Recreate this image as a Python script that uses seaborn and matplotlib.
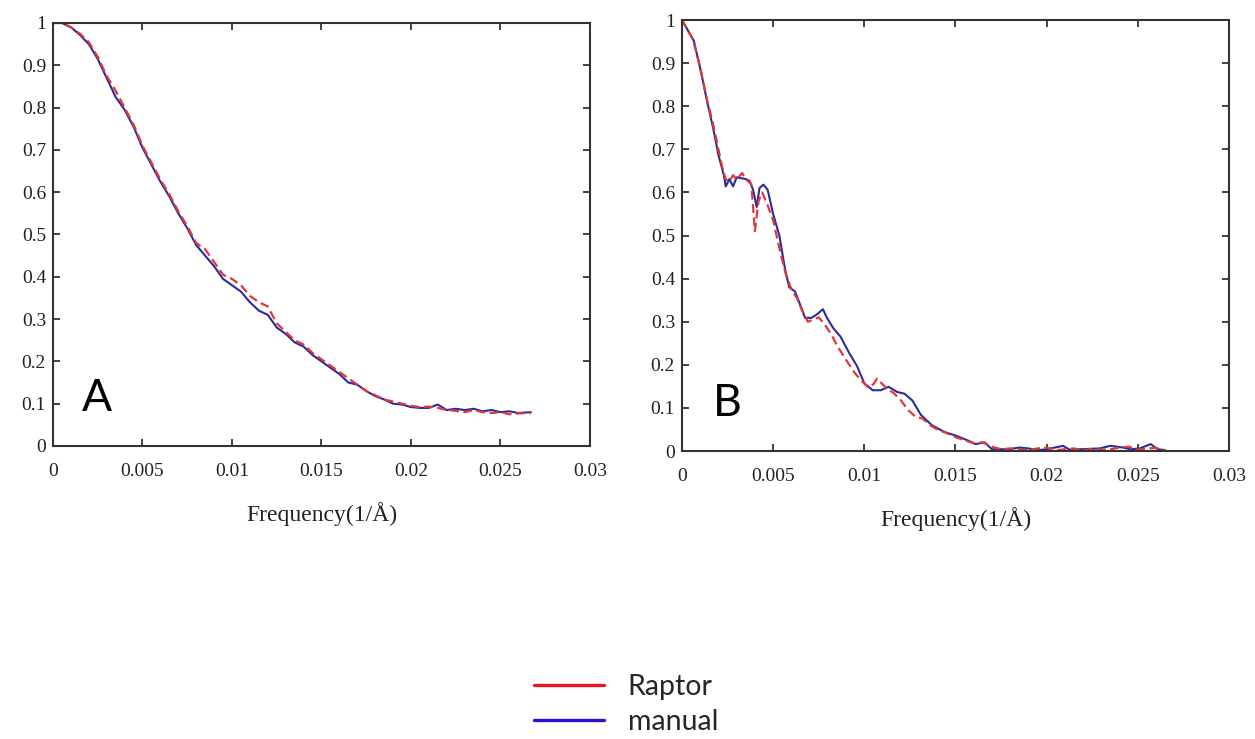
import matplotlib
matplotlib.use("Agg")
import matplotlib.pyplot as plt
from matplotlib.lines import Line2D
from matplotlib.ticker import FuncFormatter
import seaborn as sns
import pandas as pd

# ---- FSC curves, panel A ----
freq_a = [0.0, 0.0005, 0.001, 0.0015, 0.002, 0.0025, 0.003, 0.0035, 0.004, 0.0045,
          0.005, 0.0055, 0.006, 0.0065, 0.007, 0.0075, 0.008, 0.0085, 0.009, 0.0095,
          0.010, 0.0105, 0.011, 0.0115, 0.012, 0.0125, 0.013, 0.0135, 0.014, 0.0145,
          0.015, 0.0155, 0.016, 0.0165, 0.017, 0.0175, 0.018, 0.0185, 0.019, 0.0195,
          0.020, 0.0205, 0.021, 0.0215, 0.022, 0.0225, 0.023, 0.0235, 0.024, 0.0245,
          0.025, 0.0255, 0.026, 0.0267]
manual_a = [1.000, 1.000, 0.990, 0.972, 0.950, 0.915, 0.870, 0.825, 0.795, 0.755,
            0.705, 0.665, 0.625, 0.590, 0.550, 0.515, 0.475, 0.450, 0.425, 0.395,
            0.380, 0.365, 0.340, 0.320, 0.310, 0.280, 0.265, 0.245, 0.235, 0.215,
            0.200, 0.185, 0.170, 0.150, 0.145, 0.130, 0.118, 0.110, 0.100, 0.098,
            0.092, 0.090, 0.090, 0.098, 0.085, 0.088, 0.085, 0.088, 0.082, 0.085,
            0.080, 0.082, 0.078, 0.080]
raptor_a = [1.000, 1.000, 0.990, 0.975, 0.955, 0.920, 0.875, 0.840, 0.800, 0.760,
            0.710, 0.670, 0.630, 0.595, 0.555, 0.520, 0.480, 0.465, 0.435, 0.405,
            0.395, 0.380, 0.355, 0.340, 0.330, 0.290, 0.270, 0.250, 0.240, 0.220,
            0.205, 0.190, 0.175, 0.160, 0.145, 0.130, 0.120, 0.110, 0.105, 0.100,
            0.095, 0.092, 0.093, 0.090, 0.085, 0.083, 0.080, 0.085, 0.080, 0.078,
            0.080, 0.075, 0.077, 0.078]

# ---- FSC curves, panel B ----
freq_b_manual = [0.0, 0.00065, 0.001, 0.0014, 0.0017, 0.002, 0.0023, 0.0024, 0.0026, 0.0028,
                 0.0030, 0.0035, 0.0037, 0.0039, 0.0041, 0.00425, 0.00447, 0.0047, 0.0050, 0.00534,
                 0.00566, 0.00588, 0.0062, 0.00654, 0.00675, 0.0071, 0.0074, 0.00773, 0.00795, 0.0083,
                 0.0087, 0.00915, 0.0096, 0.0100, 0.01046, 0.0109, 0.01133, 0.0118, 0.0122, 0.01264,
                 0.0131, 0.0137, 0.0144, 0.0150, 0.0157, 0.0161, 0.0166, 0.0170, 0.0179, 0.0185,
                 0.0190, 0.0195, 0.0200, 0.0209, 0.0213, 0.0218, 0.0229, 0.0235, 0.0242, 0.0246,
                 0.0251, 0.0257, 0.0261, 0.0265]
manual_b = [1.000, 0.952, 0.888, 0.807, 0.751, 0.687, 0.639, 0.614, 0.631, 0.614,
            0.635, 0.631, 0.627, 0.606, 0.566, 0.610, 0.618, 0.606, 0.550, 0.500,
            0.420, 0.380, 0.370, 0.333, 0.309, 0.309, 0.317, 0.329, 0.309, 0.285,
            0.265, 0.229, 0.197, 0.157, 0.141, 0.141, 0.149, 0.137, 0.133, 0.117,
            0.084, 0.060, 0.044, 0.036, 0.024, 0.016, 0.020, 0.004, 0.004, 0.008,
            0.006, 0.002, 0.004, 0.012, 0.002, 0.004, 0.006, 0.012, 0.008, 0.004,
            0.006, 0.016, 0.004, 0.002]
freq_b_raptor = [0.0, 0.0006, 0.001, 0.0014, 0.0017, 0.002, 0.0022, 0.0024, 0.0026, 0.0028,
                 0.003, 0.0033, 0.0035, 0.0038, 0.0040, 0.0042, 0.0044, 0.0047, 0.005, 0.0054,
                 0.0057, 0.006, 0.0063, 0.0066, 0.0069, 0.0072, 0.0075, 0.0078, 0.0082, 0.0085,
                 0.0088, 0.0091, 0.0095, 0.0098, 0.0102, 0.0105, 0.0107, 0.011, 0.0113, 0.0116,
                 0.012, 0.0124, 0.0128, 0.0132, 0.0136, 0.014, 0.0145, 0.015, 0.0155, 0.016,
                 0.0165, 0.017, 0.0175, 0.018, 0.019, 0.0195, 0.020, 0.0205, 0.021, 0.0215,
                 0.022, 0.0225, 0.023, 0.0235, 0.024, 0.0245, 0.025, 0.0255, 0.026, 0.0265]
raptor_b = [1.000, 0.955, 0.890, 0.810, 0.760, 0.700, 0.660, 0.630, 0.625, 0.640,
            0.630, 0.645, 0.630, 0.620, 0.510, 0.580, 0.600, 0.570, 0.535, 0.460,
            0.410, 0.375, 0.355, 0.325, 0.300, 0.305, 0.310, 0.295, 0.270, 0.245,
            0.225, 0.205, 0.180, 0.165, 0.148, 0.155, 0.168, 0.155, 0.142, 0.135,
            0.118, 0.095, 0.080, 0.075, 0.060, 0.050, 0.042, 0.032, 0.025, 0.018,
            0.020, 0.010, 0.004, 0.006, 0.002, 0.006, 0.008, 0.002, 0.004, 0.006,
            0.002, 0.005, 0.003, 0.004, 0.008, 0.010, 0.003, 0.006, 0.007, 0.002]

x_ticks = [0, 0.005, 0.01, 0.015, 0.02, 0.025, 0.03]
y_ticks = [0, 0.1, 0.2, 0.3, 0.4, 0.5, 0.6, 0.7, 0.8, 0.9, 1.0]
series_names = ["Raptor", "manual"]
panel_labels = ["A", "B"]

RED = "#e0383a"
BLUE = "#2c2c98"
LEG_RED = "#e81820"
LEG_BLUE = "#2a12d0"

sns.set_style("ticks")
plt.rcParams["font.family"] = ["Liberation Serif", "DejaVu Serif"]

fig = plt.figure(figsize=(12.55, 7.39), dpi=100)
ax_a = fig.add_axes([0.0422, 0.3965, 0.4279, 0.5724])
ax_b = fig.add_axes([0.5434, 0.3897, 0.4359, 0.5832])

panels = [
    (ax_a, freq_a, manual_a, freq_a, raptor_a, panel_labels[0]),
    (ax_b, freq_b_manual, manual_b, freq_b_raptor, raptor_b, panel_labels[1]),
]


def tick_fmt(v, _pos):
    s = ("%.3f" % v).rstrip("0").rstrip(".")
    return s if s != "-0" else "0"


for ax, fx_m, y_m, fx_r, y_r, letter in panels:
    df_m = pd.DataFrame({"freq": fx_m, "fsc": y_m})
    df_r = pd.DataFrame({"freq": fx_r, "fsc": y_r})
    sns.lineplot(data=df_m, x="freq", y="fsc", ax=ax, color=BLUE, lw=1.5,
                 estimator=None, sort=False)
    sns.lineplot(data=df_r, x="freq", y="fsc", ax=ax, color=RED, lw=1.6,
                 estimator=None, sort=False, linestyle=(0, (4, 2)))
    ax.set_xlim(0, 0.03)
    ax.set_ylim(0, 1)
    ax.set_xticks(x_ticks)
    ax.set_yticks(y_ticks)
    ax.xaxis.set_major_formatter(FuncFormatter(tick_fmt))
    ax.yaxis.set_major_formatter(FuncFormatter(tick_fmt))
    ax.tick_params(direction="in", length=5, width=1.2, top=True, right=True,
                   labelsize=14, colors="#222222")
    ax.tick_params(axis="x", pad=12)
    ax.tick_params(axis="y", pad=5)
    for sp in ax.spines.values():
        sp.set_linewidth(1.5)
        sp.set_color("#333333")
    ax.set_xlabel("Frequency(1/Å)", fontsize=17, color="#222222", labelpad=16)
    ax.set_ylabel("")
    ax.text(0.082, 0.082, letter, transform=ax.transAxes, ha="center", va="baseline",
            fontsize=32, family=["Lato", "DejaVu Sans"], color="black")

handles = [Line2D([], [], color=LEG_RED, lw=2.4), Line2D([], [], color=LEG_BLUE, lw=2.4)]
fig.legend(handles, series_names, loc="center left", bbox_to_anchor=(0.405, 0.0465),
           frameon=False, handlelength=2.45, handletextpad=0.85, labelspacing=0.3,
           prop={"family": ["Lato", "DejaVu Sans"], "size": 20.5})

fig.savefig("out.png", dpi=100)
